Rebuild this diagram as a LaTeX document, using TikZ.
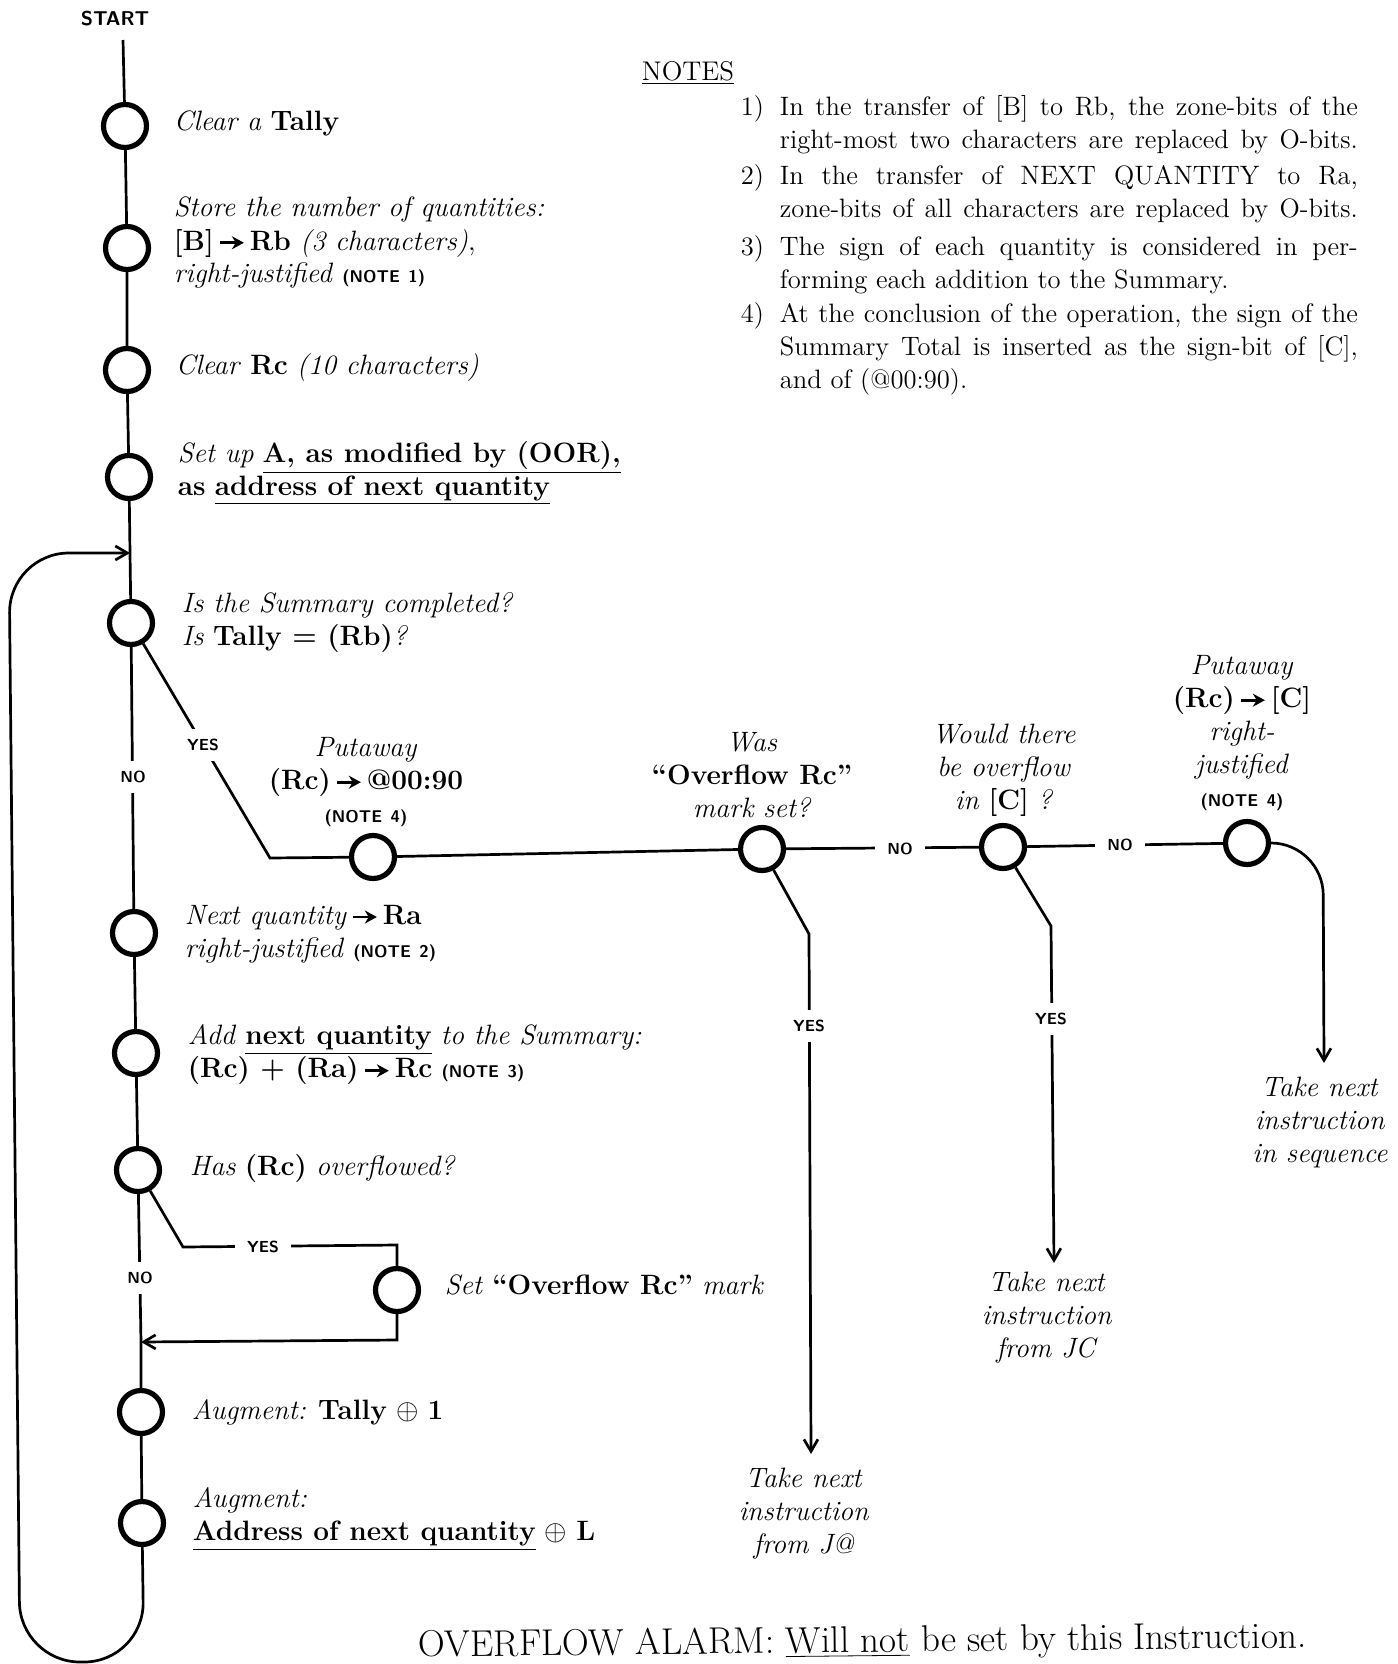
\documentclass[tikz,border=0pt]{standalone}
\usepackage{tikz}
\usetikzlibrary{arrows.meta}

% heavy transfer arrow used inside the step texts
\newcommand{\goesto}{\,\tikz[baseline=-0.6ex]\draw[line width=1.4pt,-{Stealth[length=6pt,width=6.5pt]}] (0pt,0pt) -- (12pt,0pt);\,}
\newcommand{\notetag}[1]{{\sffamily\bfseries\fontsize{8.5}{10}\selectfont (NOTE\enspace#1)}}
% justified note lines with a hanging number column
\newcommand{\jline}[1]{\makebox[289pt][s]{#1}}
\newcommand{\nnum}[1]{\makebox[19.5pt][l]{#1)}}
\newcommand{\nind}{\hspace*{19.5pt}}

\begin{document}
\begin{tikzpicture}[x=0.5pt,y=0.5pt,yscale=-1,
    opcircle/.style={draw,circle,line width=2.6pt,minimum size=21.5pt,inner sep=0pt},
    flowline/.style={line width=1.35pt},
    flowarrow/.style={flowline,-{Straight Barb[length=6pt,width=7pt]}},
    answer/.style={fill=white,inner xsep=6pt,inner ysep=5pt,font=\sffamily\bfseries\fontsize{8}{9.6}\selectfont},
    steptext/.style={anchor=west,align=left,inner sep=0.75pt,font=\fontsize{14}{16.5}\selectfont},
    midtext/.style={align=center,inner sep=0.75pt,font=\fontsize{14}{16.5}\selectfont},
    notetext/.style={anchor=west,align=left,inner sep=0.75pt,font=\fontsize{13.3}{16.5}\selectfont}]
    \useasboundingbox (0,0) rectangle (1397,1664); %whole page, 1397 x 1664

    % Text Node
    \node[inner sep=0.75pt,font=\sffamily\bfseries\fontsize{10}{12}\selectfont] (start) at (115,19) {START};
    \coordinate (st) at (123,40);

    %Shape: Circle -- main column
    \node[opcircle] (c1) at (125,126) {};
    \node[opcircle] (c2) at (127,248) {};
    \node[opcircle] (c3) at (127,370) {};
    \node[opcircle] (c4) at (129,477) {};
    \coordinate (j) at (130,553);
    \node[opcircle] (c5) at (131,623) {};
    \node[opcircle] (c6) at (134,933) {};
    \node[opcircle] (c7) at (136,1053) {};
    \node[opcircle] (c8) at (138,1170) {};
    \coordinate (m) at (141,1342);
    \node[opcircle] (c9) at (141,1412) {};
    \node[opcircle] (c10) at (142,1523) {};

    %Shape: Circle -- exit branch
    \coordinate (k1) at (270,858);
    \node[opcircle] (p1) at (373,857) {};
    \node[opcircle] (w) at (762,849) {};
    \node[opcircle] (wo) at (1003,847) {};
    \node[opcircle] (p2) at (1247,843) {};
    \coordinate (wy) at (809,934);
    \coordinate (wend) at (811,1454);
    \coordinate (woy) at (1051,926);
    \coordinate (woend) at (1054,1263);
    \coordinate (p2c) at (1323,843);
    \coordinate (p2end) at (1324,1063);

    %Shape: Circle -- overflow mark
    \coordinate (hy) at (183,1247);
    \coordinate (hc) at (397,1245);
    \node[opcircle] (s) at (397,1290) {};
    \coordinate (sb) at (397,1340);

    %Loop corners
    \coordinate (lb) at (144,1662);
    \coordinate (la) at (20,1662);
    \coordinate (lt) at (9,553);

    %Straight Lines
    \draw[flowline] (st) -- (c1) -- (c2) -- (c3) -- (c4) -- (j) -- (c5) -- (c6) -- (c7) -- (c8) -- (m) -- (c9) -- (c10);
    %Curve Lines
    \draw[flowarrow,rounded corners=30pt] (c10) -- (lb) -- (la) -- (lt) -- (j);
    \draw[flowline] (c5) -- (k1) -- (p1) -- (w) -- (wo) -- (p2);
    \draw[flowarrow] (w) -- (wy) -- (wend);
    \draw[flowarrow] (wo) -- (woy) -- (woend);
    \draw[flowarrow,rounded corners=26pt] (p2) -- (p2c) -- (p2end);
    \draw[flowline] (c8) -- (hy) -- (hc) -- (s);
    \draw[flowarrow] (s) -- (sb) -- (m);

    % Answers
    \node[answer] (yes1) at (203,745) {YES};
    \node[answer] (no1) at (133,777) {NO};
    \node[answer] (no3) at (900,849) {NO};
    \node[answer] (no4) at (1120,845) {NO};
    \node[answer] (yes3) at (809,1026) {YES};
    \node[answer] (yes4) at (1051,1019) {YES};
    \node[answer] (yes2) at (263,1247) {YES};
    \node[answer] (no2) at (140,1278) {NO};

    % Text Node
    \node[steptext] (t1) at (172,123) {\textit{Clear a} \textbf{Tally}};
    % Text Node
    \node[steptext] (t2) at (172,243) {\textit{Store the number of quantities:}\\\textbf{[B]}\goesto\textbf{Rb} \textit{(3 characters)},\\\textit{right-justified} \notetag{1}};
    % Text Node
    \node[steptext] (t3) at (174,368) {\textit{Clear} \textbf{Rc} \textit{(10 characters)}};
    % Text Node
    \node[steptext] (t4) at (176,473) {\textit{Set up} \underline{\textbf{A, as modified by (OOR),}}\\\textbf{as} \underline{\textbf{address of next quantity}}};
    % Text Node
    \node[steptext] (t5) at (180,622) {\textit{Is the Summary completed?}\\\textit{Is} \textbf{Tally = (Rb)}\textit{?}};
    % Text Node
    \node[steptext] (t6) at (183,934) {\textit{Next quantity}\goesto\textbf{Ra}\\\textit{right-justified} \notetag{2}};
    % Text Node
    \node[steptext] (t7) at (186,1055) {\textit{Add} \underline{\textbf{next quantity}} \textit{to the Summary:}\\\textbf{(Rc) + (Ra)}\goesto\textbf{Rc} \notetag{3}};
    % Text Node
    \node[steptext] (t8) at (188,1169) {\textit{Has} \textbf{(Rc)} \textit{overflowed?}};
    % Text Node
    \node[steptext] (t9) at (443,1285) {\textit{Set} \textbf{``Overflow Rc''} \textit{mark}};
    % Text Node
    \node[steptext] (t10) at (190,1412) {\textit{Augment:} \textbf{Tally} $\oplus$ \textbf{1}};
    % Text Node
    \node[steptext] (t11) at (191,1519) {\textit{Augment:}\\\underline{\textbf{Address of next quantity}} $\oplus$ \textbf{L}};

    % Text Node
    \node[midtext] (t12) at (366,782) {\textit{Putaway}\\\textbf{(Rc)}\goesto\textbf{@00:90}\\\notetag{4}};
    % Text Node
    \node[midtext] (t13) at (752,775) {\textit{Was}\\\textbf{``Overflow Rc''}\\\textit{mark set?}};
    % Text Node
    \node[midtext] (t14) at (1004,770) {\textit{Would there}\\\textit{be overflow}\\\textit{in} \textbf{[C]} \textit{?}};
    % Text Node
    \node[midtext] (t15) at (1242,733) {\textit{Putaway}\\\textbf{(Rc)}\goesto\textbf{[C]}\\\textit{right-}\\\textit{justified}\\\notetag{4}};

    % Text Node
    \node[midtext] (e1) at (804,1514) {\textit{Take next}\\\textit{instruction}\\\textit{from J@}};
    % Text Node
    \node[midtext] (e2) at (1047,1318) {\textit{Take next}\\\textit{instruction}\\\textit{from JC}};
    % Text Node
    \node[midtext] (e3) at (1320,1122) {\textit{Take next}\\\textit{instruction}\\\textit{in sequence}};

    % Notes
    \node[inner sep=0.75pt,font=\fontsize{13.5}{16}\selectfont] (notes) at (688,73) {\underline{NOTES}};
    \node[notetext] (n1) at (739,125) {\nnum{1}\jline{In the transfer of [B] to Rb, the zone-bits of the}\\\nind\jline{right-most two characters are replaced by O-bits.}};
    \node[notetext] (n2) at (739,194) {\nnum{2}\jline{In the transfer of NEXT QUANTITY to Ra,}\\\nind\jline{zone-bits of all characters are replaced by O-bits.}};
    \node[notetext] (n3) at (739,265) {\nnum{3}\jline{The sign of each quantity is considered in per-}\\\nind forming each addition to the Summary.};
    \node[notetext] (n4) at (739,349) {\nnum{4}\jline{At the conclusion of the operation, the sign of the}\\\nind\jline{Summary Total is inserted as the sign-bit of [C],}\\\nind and of (@00:90).};

    % Text Node
    \node[anchor=base west,rotate=0.6,inner sep=0.75pt,font=\fontsize{18.6}{22}\selectfont] (alarm) at (417,1657) {OVERFLOW ALARM: \underline{Will not} be set by this Instruction.};
\end{tikzpicture}
\end{document}
